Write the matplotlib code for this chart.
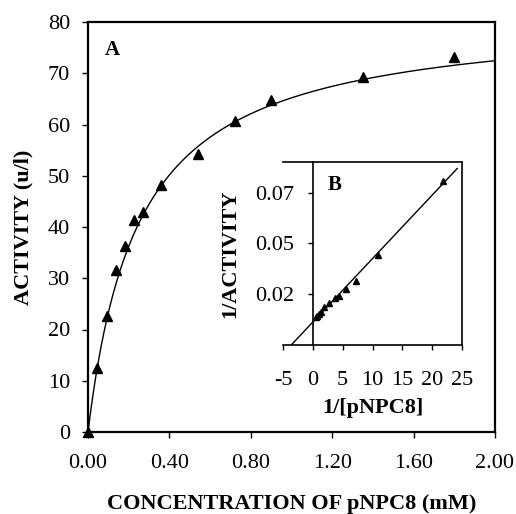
import matplotlib
matplotlib.use("Agg")
import matplotlib.pyplot as plt
import numpy as np

# main panel data: substrate concentration (mM) vs activity (u/l)
conc = [0.0, 0.046, 0.092, 0.139, 0.182, 0.228, 0.272, 0.36, 0.54, 0.72, 0.90, 1.35, 1.80]
activity = [0.0, 12.4, 22.6, 31.6, 36.2, 41.4, 43.0, 48.1, 54.2, 60.7, 64.8, 69.3, 73.2]

# Michaelis-Menten fit drawn in panel A
VMAX = 81.5
KM = 0.25

# Lineweaver-Burk line drawn in panel B
LB_SLOPE = 0.00312
LB_INTERCEPT = 0.0113
lb_x = [-3.6, 24.2]

x_ticks = [0.0, 0.4, 0.8, 1.2, 1.6, 2.0]
y_ticks = [0, 10, 20, 30, 40, 50, 60, 70, 80]
in_x_ticks = [-5, 0, 5, 10, 15, 20, 25]
in_y_ticks = [0.025, 0.05, 0.075]
in_y_labels = ["0.02", "0.05", "0.07"]

plt.rcParams["font.family"] = ["Liberation Serif", "DejaVu Serif"]
plt.rcParams["axes.unicode_minus"] = False
W, H = 516, 514
fig = plt.figure(figsize=(W / 100, H / 100), dpi=100)


def px_axes(left, top, right, bottom):
    return fig.add_axes([left / W, 1 - bottom / H, (right - left) / W, (bottom - top) / H])


# ---- panel A
ax = px_axes(88, 22, 495, 432)
s = np.linspace(0, 2.0, 300)
ax.plot(s, VMAX * s / (KM + s), color="black", linewidth=1.0)
ax.plot(conc, activity, linestyle="none", marker="^", color="black", markersize=7,
        clip_on=False, zorder=3)
ax.set_xlim(0, 2.0)
ax.set_ylim(0, 80)
ax.set_xticks(x_ticks)
ax.set_xticklabels([f"{v:.2f}" for v in x_ticks])
ax.set_yticks(y_ticks)
for sp in ax.spines.values():
    sp.set_linewidth(1.6)
ax.tick_params(direction="out", length=4.5, width=1.0, labelsize=16, pad=8.5,
               top=False, right=False)
ax.tick_params(axis="x", pad=11.5)
ax.set_xlabel("CONCENTRATION OF pNPC8 (mM)", fontsize=16, fontweight="bold", labelpad=15)
ax.yaxis.set_label_coords(-0.135, 0.5)
ax.set_ylabel("ACTIVITY (u/l)", fontsize=16, fontweight="bold")
ax.text(0.06, 0.932, "A", transform=ax.transAxes, fontsize=15, fontweight="bold",
        ha="center", va="center")

# ---- panel B (inset)
ax2 = px_axes(283, 162, 462, 345)
inv_s = [1 / c for c in conc if c > 0]
inv_v = [1 / a for c, a in zip(conc, activity) if c > 0]
lx = np.array(lb_x)
ax2.plot(lx, LB_SLOPE * lx + LB_INTERCEPT, color="black", linewidth=1.0)
ax2.plot(inv_s, inv_v, linestyle="none", marker="^", color="black", markersize=4.5)
ax2.set_xlim(-5, 25)
ax2.set_ylim(0, 0.09)
ax2.spines["left"].set_position(("data", 0))
for sp in ax2.spines.values():
    sp.set_linewidth(1.2)
ax2.set_xticks(in_x_ticks)
ax2.set_yticks(in_y_ticks)
ax2.set_yticklabels(in_y_labels)
ax2.tick_params(direction="out", length=3.5, width=1.0, labelsize=16, pad=10,
                top=False, right=False)
ax2.tick_params(axis="x", pad=15)
ax2.set_xlabel("1/[pNPC8]", fontsize=16, fontweight="bold", labelpad=6)
ax2.yaxis.set_label_coords(-0.24, 0.5)
ax2.set_ylabel("1/ACTIVITY", fontsize=16, fontweight="bold")
ax2.text(0.29, 0.873, "B", transform=ax2.transAxes, fontsize=15, fontweight="bold",
         ha="center", va="center")

fig.savefig("out.png", dpi=100)
